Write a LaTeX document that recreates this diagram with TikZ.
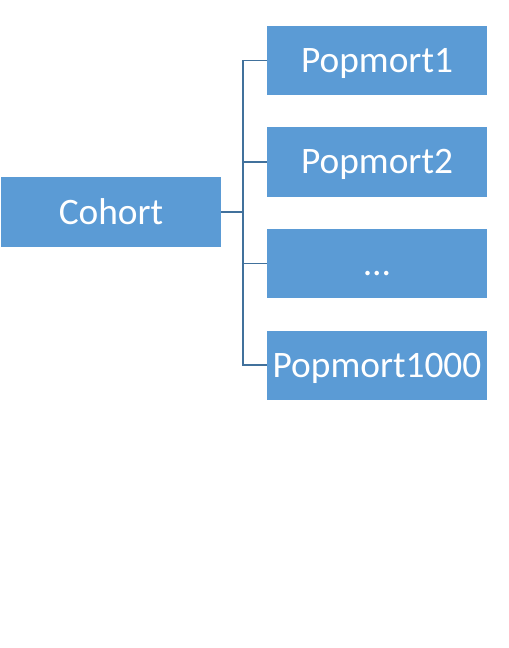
\documentclass[tikz,border=0pt]{standalone}
\usepackage{fontspec}
\setmainfont{Carlito}
\usepackage{xcolor}
\usetikzlibrary{positioning}
\definecolor{boxfill}{HTML}{5B9BD5}
\definecolor{linecol}{HTML}{41719C}

\begin{document}
\begin{tikzpicture}[x=1bp,y=-1bp,
  box/.style={fill=boxfill,text=white,minimum width=220bp,minimum height=69bp,inner sep=0pt,
    text height=24bp,text depth=0bp,font=\fontsize{37.5}{42}\selectfont},
  conn/.style={draw=linecol,line width=1.3bp}]
  \useasboundingbox (0,0) rectangle (509,648);
  \node[box] (cohort) at (111,212) {Cohort};
  \node[box] (p1) at (377,60.5) {Popmort1};
  \node[box] (p2) at (377,162) {Popmort2};
  \node[box] (p3) at (377,263.5) {\dots};
  \node[box] (p4) at (377,365) {Popmort1000};
  \coordinate (bus) at (243,212);
  \draw[conn] (cohort.east) -- (bus);
  \foreach \n in {p1,p2,p3,p4}{
    \draw[conn] (bus) |- (\n.west);
  }
\end{tikzpicture}
\end{document}
